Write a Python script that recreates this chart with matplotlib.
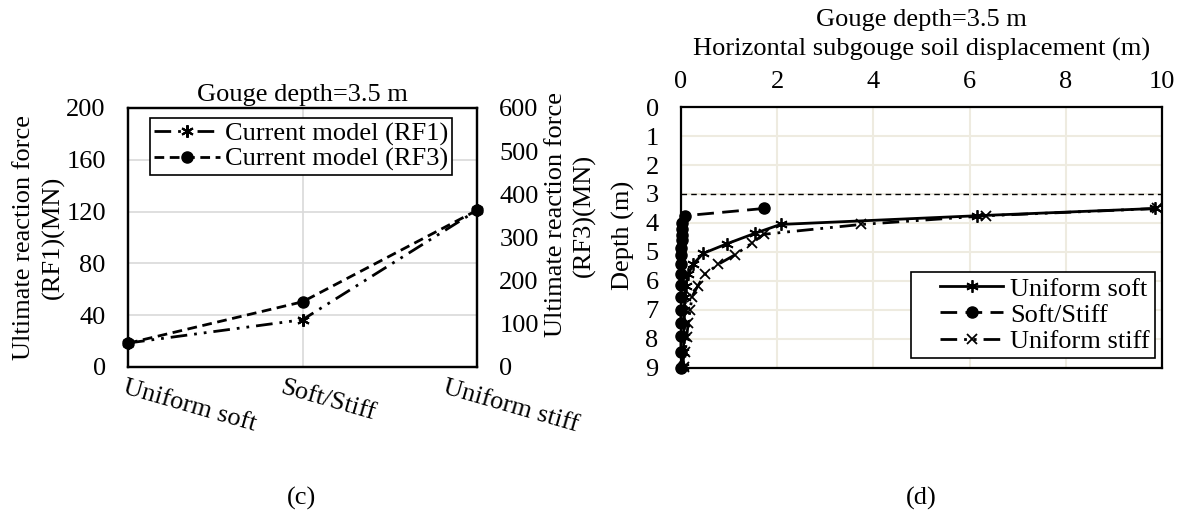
import matplotlib.pyplot as plt
import matplotlib.transforms as mtransforms
from matplotlib.legend_handler import HandlerLine2D
from matplotlib.lines import Line2D
import numpy as np

plt.rcParams['font.family'] = ['Liberation Serif', 'DejaVu Serif']
plt.rcParams['font.size'] = 19
FS = 19

# (c) ultimate reaction forces per soil profile
categories = ["Uniform soft", "Soft/Stiff", "Uniform stiff"]
rf1 = [18.5, 36.5, 121]
rf3 = [55, 151, 363]

# (d) subgouge displacement profiles
depth_soft = [3.5, 3.75, 4.05, 4.36, 4.72, 5.05, 5.43, 5.77, 6.17, 6.54, 7.0, 7.46, 7.92, 8.44, 8.98]
disp_soft = [9.85, 6.15, 2.07, 1.53, 0.95, 0.46, 0.25, 0.15, 0.1, 0.08, 0.07, 0.06, 0.06, 0.05, 0.05]

depth_softstiff = [3.5, 3.75, 4.0, 4.2, 4.4, 4.6, 4.85, 5.1, 5.4, 5.75, 6.15, 6.55, 7.0, 7.45, 7.9, 8.45, 9.0]
disp_softstiff = [1.72, 0.08, 0.03, 0.02, 0.02, 0.02, 0.01, 0.01, 0.01, 0.01, 0.0, 0.0, 0.0, 0.0, 0.0, 0.0, 0.0]

depth_stiff = [3.5, 3.75, 4.05, 4.39, 4.7, 5.1, 5.43, 5.77, 6.17, 6.54, 7.0, 7.46, 7.92, 8.44, 8.98]
disp_stiff = [9.9, 6.35, 3.75, 1.72, 1.47, 1.12, 0.77, 0.5, 0.35, 0.23, 0.19, 0.15, 0.12, 0.09, 0.06]

gouge_line = 3.0

asterisk = (6, 2, 0)
ddd = (0, (6, 2.5, 1, 2.5, 1, 2.5))

fig = plt.figure(figsize=(11.81, 5.23), dpi=100)

# ---------- (c) ----------
ax = fig.add_axes([0.1084, 0.2983, 0.2955, 0.4952])
ax2 = ax.twinx()

x = np.arange(len(categories))
l1, = ax.plot(x, rf1, color='black', lw=2, linestyle=ddd, marker=asterisk,
              markersize=9, markeredgewidth=1.5, clip_on=False, label='Current model (RF1)')
l3, = ax2.plot(x, rf3, color='black', lw=2, linestyle=(0, (3.5, 2)), marker='o',
               markersize=8, clip_on=False, label='Current model (RF3)')

ax.set_xlim(0, 2)
ax.set_ylim(0, 200)
ax.set_yticks(np.arange(0, 201, 40))
ax2.set_ylim(0, 600)
ax2.set_yticks(np.arange(0, 601, 100))
ax.set_xticks(x)
ax.set_xticklabels([])

# rotated category labels, Excel style
offsets = [-1, -19, -30]
for i, (cat, dx) in enumerate(zip(categories, offsets)):
    tr = ax.get_xaxis_transform() + mtransforms.ScaledTranslation(dx / 100, -10 / 100,
                                                                   fig.dpi_scale_trans)
    ax.text(i, 0, cat, transform=tr, rotation=-16, rotation_mode='anchor',
            ha='left', va='top', fontsize=FS)

ax.grid(True, color='#D9D9D9', lw=1.2)
ax.set_axisbelow(True)
ax.tick_params(axis='both', length=0, labelsize=FS)
ax.tick_params(axis='y', pad=16)
ax2.tick_params(axis='y', length=0, pad=16, labelsize=FS)
for a in (ax, ax2):
    for s in a.spines.values():
        s.set_linewidth(1.6)
        s.set_color('black')

ax.set_ylabel('Ultimate reaction force\n(RF1)(MN)', linespacing=1.4, fontsize=FS)
ax.yaxis.set_label_coords(-0.18, 0.5)
ax2.set_ylabel('Ultimate reaction force\n(RF3)(MN)', linespacing=1.3, fontsize=FS)
ax2.yaxis.set_label_coords(1.195, 0.587)
ax.set_title('Gouge depth=3.5 m', pad=5, fontsize=FS)

leg1 = ax2.legend(handles=[l1, l3], loc='upper left', bbox_to_anchor=(0.063, 0.961),
                  borderaxespad=0, fancybox=False, framealpha=1, edgecolor='black',
                  handlelength=2.5, handletextpad=0.2, borderpad=0.15, labelspacing=0.05,
                  fontsize=FS)
leg1.get_frame().set_linewidth(1.2)

# ---------- (d) ----------
bx = fig.add_axes([0.5766, 0.2964, 0.4073, 0.499])
bx.plot(disp_soft, depth_soft, color='black', lw=2, marker=asterisk, markersize=9,
        markeredgewidth=1.3, clip_on=False, label='Uniform soft')
bx.plot(disp_softstiff, depth_softstiff, color='black', lw=2, linestyle=(0, (6, 3)),
        marker='o', markersize=8, clip_on=False, label='Soft/Stiff')
bx.plot(disp_stiff, depth_stiff, color='black', lw=2, linestyle=ddd, marker='x',
        markersize=7, markeredgewidth=1.3, clip_on=False, label='Uniform stiff')
bx.axhline(gouge_line, color='black', lw=1, linestyle=(0, (4, 3)))

bx.set_xlim(0, 10)
bx.set_ylim(9, 0)
bx.set_xticks(np.arange(0, 11, 2))
bx.set_yticks(np.arange(0, 10, 1))
bx.xaxis.tick_top()
bx.xaxis.set_label_position('top')
bx.grid(True, color='#EEEBE0', lw=1.5)
bx.set_axisbelow(True)
bx.tick_params(axis='both', length=0, labelsize=FS)
bx.tick_params(axis='y', pad=16)
bx.tick_params(axis='x', pad=10)
for s in bx.spines.values():
    s.set_linewidth(1.6)
    s.set_color('black')

bx.set_xlabel('Horizontal subgouge soil displacement (m)', labelpad=11, fontsize=FS)
bx.set_ylabel('Depth (m)', fontsize=FS)
bx.yaxis.set_label_coords(-0.095, 0.51)
fig.text(0.780, 0.962, 'Gouge depth=3.5 m', ha='center', va='center', fontsize=FS)

leg = bx.legend(loc='lower right', bbox_to_anchor=(0.985, 0.038), borderaxespad=0,
                fancybox=False, framealpha=1, edgecolor='black', handlelength=3.3,
                handletextpad=0.25, borderpad=0.2, labelspacing=0.1, fontsize=FS,
                handler_map={Line2D: HandlerLine2D(xpad=0.9)})
leg.get_frame().set_linewidth(1.2)

fig.text(0.2557, 0.046, '(c)', ha='center', va='center', fontsize=FS)
fig.text(0.78, 0.046, '(d)', ha='center', va='center', fontsize=FS)

fig.savefig('out.png', dpi=100)
